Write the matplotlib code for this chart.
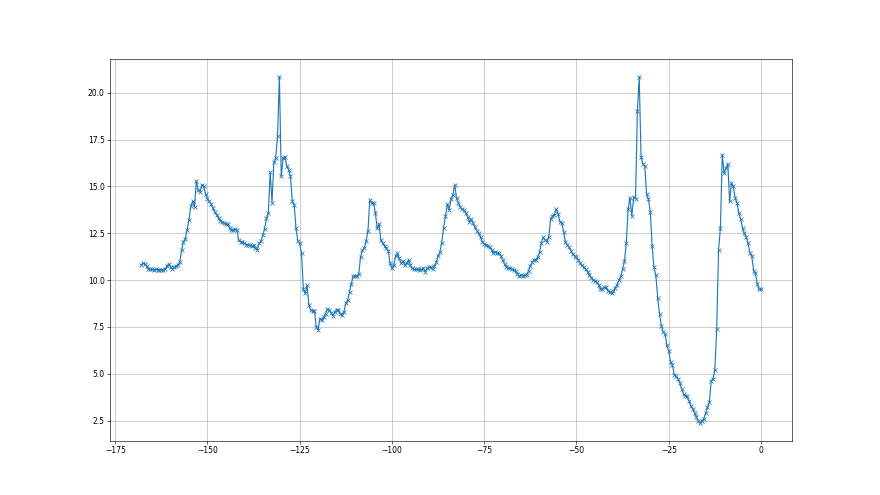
import numpy as np
import matplotlib.pyplot as plt

# samples every 0.5 from -168 to 0
x_start, x_end = -168, 0

y_values = [
    # -168 .. -163.5
    10.80, 10.90, 10.88, 10.75, 10.60, 10.57, 10.57, 10.55, 10.57, 10.56,
    # -163 .. -158.5
    10.55, 10.54, 10.54, 10.57, 10.75, 10.86, 10.70, 10.60, 10.68, 10.74,
    # -158 .. -153.5
    10.80, 10.95, 11.60, 12.05, 12.20, 12.70, 13.20, 13.95, 14.20, 13.90,
    # -153 .. -148.5
    15.30, 14.80, 14.70, 15.10, 15.00, 14.60, 14.35, 14.20, 14.05, 13.85,
    # -148 .. -143.5
    13.62, 13.48, 13.30, 13.18, 13.10, 13.05, 13.00, 12.98, 12.80, 12.65,
    # -143 .. -138.5
    12.70, 12.72, 12.65, 12.12, 12.05, 12.05, 11.96, 11.90, 11.88, 11.88,
    # -138 .. -133.5
    11.80, 11.86, 11.70, 11.62, 11.96, 12.10, 12.40, 12.75, 13.30, 13.60,
    # -133 .. -128.5
    15.75, 14.14, 16.29, 16.52, 17.71, 20.86, 15.54, 16.52, 16.60, 16.10,
    # -128 .. -123.5
    15.90, 15.54, 14.20, 14.02, 12.77, 12.10, 11.96, 11.43, 9.50, 9.29,
    # -123 .. -118.5
    9.73, 8.66, 8.39, 8.36, 8.36, 7.50, 7.36, 7.95, 7.86, 8.04,
    # -118 .. -113.5
    8.21, 8.45, 8.40, 8.27, 8.10, 8.30, 8.43, 8.43, 8.18, 8.13,
    # -113 .. -108.5
    8.30, 8.79, 8.93, 9.38, 9.82, 10.21, 10.21, 10.21, 10.32, 11.25,
    # -108 .. -103.5
    11.60, 11.70, 12.10, 12.64, 14.29, 14.10, 14.14, 13.60, 12.77, 13.00,
    # -103 .. -98.5
    12.14, 11.96, 11.82, 11.70, 11.57, 10.89, 10.63, 10.80, 11.29, 11.43,
    # -98 .. -93.5
    11.16, 10.89, 11.02, 10.80, 10.89, 11.10, 10.80, 10.63, 10.57, 10.57,
    # -93 .. -88.5
    10.57, 10.54, 10.57, 10.63, 10.45, 10.63, 10.68, 10.68, 10.60, 10.75,
    # -88 .. -83.5
    10.95, 11.30, 11.50, 12.00, 12.80, 13.40, 14.05, 13.75, 14.32, 14.55,
    # -83 .. -78.5
    15.09, 14.38, 14.11, 13.89, 13.79, 13.75, 13.57, 13.39, 13.13, 13.25,
    # -78 .. -73.5
    13.04, 12.82, 12.64, 12.50, 12.29, 12.05, 11.93, 11.88, 11.82, 11.75,
    # -73 .. -68.5
    11.61, 11.46, 11.52, 11.43, 11.43, 11.30, 11.05, 10.85, 10.72, 10.65,
    # -68 .. -63.5
    10.63, 10.60, 10.54, 10.50, 10.32, 10.21, 10.27, 10.21, 10.27, 10.30,
    # -63 .. -58.5
    10.50, 10.75, 10.95, 11.10, 11.07, 11.25, 11.50, 12.00, 12.29, 12.14,
    # -58 .. -53.5
    12.05, 12.32, 13.25, 13.43, 13.48, 13.79, 13.54, 13.13, 13.07, 12.59,
    # -53 .. -48.5
    12.05, 11.88, 11.75, 11.57, 11.39, 11.29, 11.21, 11.07, 10.89, 10.80,
    # -48 .. -43.5
    10.68, 10.57, 10.45, 10.27, 10.14, 10.00, 9.96, 9.91, 9.73, 9.55,
    # -43 .. -38.5
    9.50, 9.61, 9.61, 9.43, 9.35, 9.29, 9.40, 9.60, 9.76, 10.00,
    # -38 .. -17.5
    10.21, 10.57, 11.00, 12.00, 13.79, 14.38, 13.43, 14.43, 14.35, 19.02,
    20.86, 16.57, 16.21, 16.07, 14.61, 14.32, 13.66, 11.82, 10.68, 10.27,
    9.07, 8.21, 7.54, 7.23, 7.11, 6.52, 6.21, 5.63, 5.45, 4.96,
    4.86, 4.73, 4.50, 4.20, 3.93, 3.84, 3.79, 3.54, 3.30, 3.13,
    2.89, 2.71,
    # -17 .. 0
    2.46, 2.36, 2.50, 2.59, 2.89, 3.21, 3.48, 4.61, 4.73, 5.21,
    7.41, 11.61, 12.77, 16.70, 15.71, 15.98, 16.21, 14.20, 15.18, 15.00,
    14.38, 14.11, 13.57, 13.25, 12.77, 12.50, 12.29, 11.96, 11.43, 11.29,
    10.50, 10.36, 9.79, 9.50, 9.50,
]

x_values = np.linspace(x_start, x_end, len(y_values))

fig, ax = plt.subplots(figsize=(16, 9), dpi=55)
ax.plot(x_values, y_values, marker="x")
ax.grid(True)

fig.savefig("out.png", dpi=55)
